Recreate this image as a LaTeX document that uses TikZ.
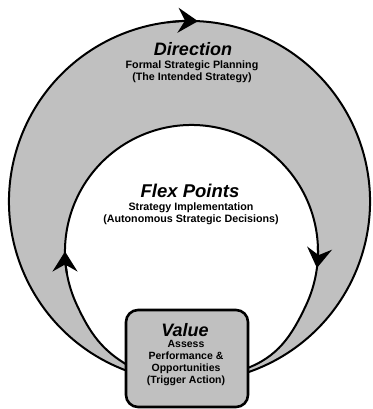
\documentclass[tikz,border=0pt]{standalone}
\usepackage{fontspec}
\setmainfont{Liberation Sans}
\usetikzlibrary{arrows.meta,calc}
\definecolor{bandgray}{RGB}{192,192,192}
\tikzset{
    band/.style={fill=bandgray},
    flow/.style={draw, line width=2pt},
    tip/.style={line width=2pt, -{Stealth[length=20pt, width=25pt, inset=7pt]}}
}
\tikzset{
    title/.style={font=\fontsize{18}{19}\selectfont\bfseries\itshape, inner sep=0pt},
    sub/.style={font=\fontsize{10.7}{12}\selectfont\bfseries, align=center, inner sep=0pt}
}
\tikzset{
    valuebox/.style={draw, fill=bandgray, line width=2.6pt, rounded corners=12pt,
    	minimum width=122pt, minimum height=97pt}
}

\begin{document}
\begin{tikzpicture}
	\useasboundingbox (0pt, 0pt) rectangle (372pt, 409pt);
	\coordinate (oc) at (189.5pt, 207.5pt);
	\coordinate (ic) at (191.5pt, 157.5pt);
	\coordinate (ol) at ($(oc)+(250:180.5pt)$);
	\coordinate (il) at (129pt, 43pt);
	\coordinate (ir) at (245pt, 40pt);
	\coordinate (ia) at ($(ic)+(205:126.5pt)$);
	\coordinate (ib) at ($(ic)+(-25:126.5pt)$);

	\fill[band] (ol) arc[start angle=250, end angle=-72, radius=180.5pt]
		-- (ir) to[out=20, in=-115] (ib)
		arc[start angle=-25, end angle=205, radius=126.5pt]
		to[out=-65, in=150] (il) -- cycle;

	\draw[flow] (ol) arc[start angle=250, end angle=-72, radius=180.5pt];
	\draw[flow] (il) to[out=150, in=-65] (ia)
		arc[start angle=205, end angle=-25, radius=126.5pt]
		to[out=-115, in=20] (ir);

	\draw[tip] ($(oc)+(97:180.5pt)$) arc[start angle=97, end angle=87.3, radius=180.5pt];
	\draw[tip] ($(ic)+(190:126.5pt)$) arc[start angle=190, end angle=180, radius=126.5pt];
	\draw[tip] ($(ic)+(2.5:126.5pt)$) arc[start angle=2.5, end angle=-7.5, radius=126.5pt];

	\node (value) [valuebox] at (187pt, 50.5pt) {};

	\node (direction) [title] at (193pt, 360pt) {Direction};
	\node (directionsub) [sub] at (192pt, 337.5pt) {Formal Strategic Planning\\(The Intended Strategy)};
	\node (flex) [title, font=\fontsize{18.5}{20}\selectfont\bfseries\itshape] at (190pt, 218pt) {Flex Points};
	\node (flexsub) [sub] at (191pt, 195pt) {Strategy Implementation\\(Autonomous Strategic Decisions)};
	\node (valuetitle) [title] at (185pt, 79pt) {Value};
	\node (valuesub) [sub, font=\fontsize{10.5}{12.2}\selectfont\bfseries] at (186pt, 46pt)
		{Assess\\Performance \&\\Opportunities\\(Trigger Action)};
\end{tikzpicture}
\end{document}
